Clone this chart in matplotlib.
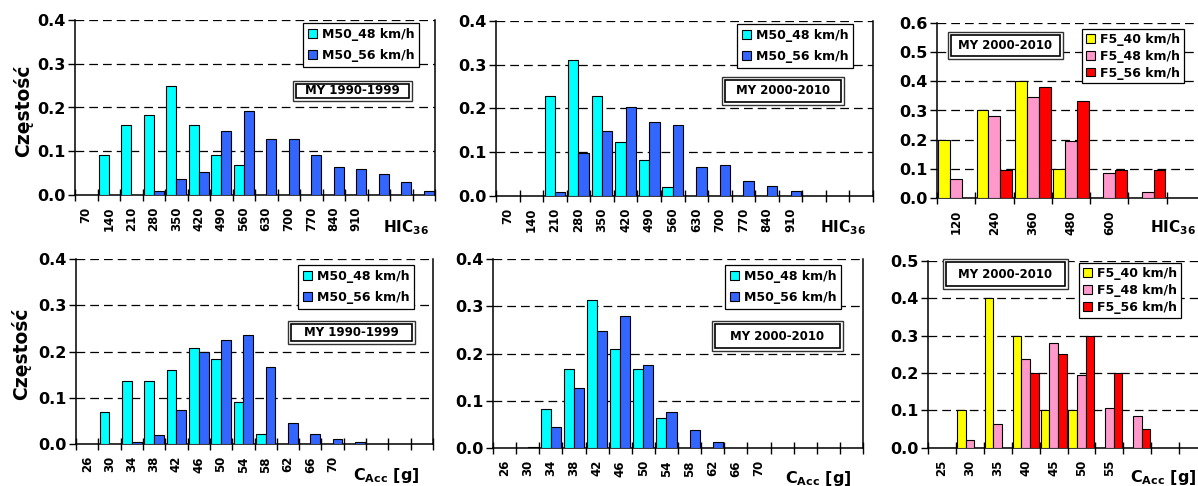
import numpy as np
import matplotlib
matplotlib.use('Agg')
import matplotlib.pyplot as plt
from matplotlib.patches import Rectangle
from matplotlib.ticker import FormatStrFormatter

# --- data ---
hic_bins = [70, 140, 210, 280, 350, 420, 490, 560, 630, 700, 770, 840, 910, 980, 1050, 1120]
hic_labels = ['70', '140', '210', '280', '350', '420', '490', '560', '630', '700', '770', '840', '910', '', '', '']

p1_m48 = [0, 0.091, 0.16, 0.182, 0.25, 0.16, 0.091, 0.068, 0, 0, 0, 0, 0, 0, 0, 0]
p1_m56 = [0, 0, 0, 0.01, 0.037, 0.053, 0.147, 0.192, 0.128, 0.128, 0.091, 0.064, 0.059, 0.048, 0.03, 0.008]

p2_m48 = [0, 0, 0.228, 0.311, 0.228, 0.124, 0.083, 0.02, 0, 0, 0, 0, 0, 0, 0, 0]
p2_m56 = [0, 0, 0.01, 0.098, 0.148, 0.203, 0.169, 0.163, 0.067, 0.07, 0.034, 0.023, 0.011, 0, 0, 0]

f5_hic_bins = [120, 240, 360, 480, 600, 720, 840]
f5_hic_labels = ['120', '240', '360', '480', '600', '', '']
p3_f40 = [0.2, 0.3, 0.4, 0.1, 0, 0, 0]
p3_f48 = [0.065, 0.281, 0.347, 0.195, 0.088, 0.022, 0]
p3_f56 = [0, 0.096, 0.379, 0.331, 0.096, 0.096, 0]

cacc_bins = [26, 30, 34, 38, 42, 46, 50, 54, 58, 62, 66, 70, 74, 78, 82, 86]
cacc_labels = ['26', '30', '34', '38', '42', '46', '50', '54', '58', '62', '66', '70', '', '', '', '']
p4_m48 = [0, 0.069, 0.137, 0.137, 0.161, 0.207, 0.185, 0.091, 0.023, 0, 0, 0, 0, 0, 0, 0]
p4_m56 = [0, 0, 0.006, 0.021, 0.074, 0.199, 0.225, 0.235, 0.166, 0.045, 0.022, 0.011, 0.0045, 0, 0, 0]

p5_m48 = [0, 0, 0.084, 0.167, 0.314, 0.21, 0.167, 0.063, 0, 0, 0, 0, 0, 0, 0, 0]
p5_m56 = [0, 0.002, 0.045, 0.127, 0.248, 0.279, 0.176, 0.076, 0.038, 0.014, 0, 0, 0, 0, 0, 0]

f5_cacc_bins = [25, 30, 35, 40, 45, 50, 55, 60, 65, 70]
f5_cacc_labels = ['25', '30', '35', '40', '45', '50', '55', '', '', '']
p6_f40 = [0, 0.1, 0.4, 0.3, 0.1, 0.1, 0, 0, 0, 0]
p6_f48 = [0, 0.021, 0.064, 0.2375, 0.28, 0.195, 0.107, 0.085, 0, 0]
p6_f56 = [0, 0, 0, 0.2, 0.25, 0.3, 0.2, 0.051, 0, 0]

m_names = ['M50_48 km/h', 'M50_56 km/h']
f_names = ['F5_40 km/h', 'F5_48 km/h', 'F5_56 km/h']
m_colors = ['#00FFFF', '#3366FF']
f_colors = ['#FFFF00', '#FF99CC', '#FF0000']

W, H = 1198, 486
plt.rcParams['font.family'] = ['DejaVu Sans']
plt.rcParams['font.weight'] = 'bold'
plt.rcParams['mathtext.default'] = 'bf'

fig = plt.figure(figsize=(W / 100, H / 100), dpi=100)


def fx(x):
    return x / W


def fy(y):
    return 1 - y / H


def my_box(l, t, r, b, text):
    # double-framed label box
    fig.add_artist(Rectangle((fx(l), fy(b)), (r - l) / W, (b - t) / H, transform=fig.transFigure,
                             facecolor='white', edgecolor='#333333', lw=1.0, zorder=6))
    d = 3
    fig.add_artist(Rectangle((fx(l + d), fy(b - d)), (r - l - 2 * d) / W, (b - t - 2 * d) / H,
                             transform=fig.transFigure, facecolor='white', edgecolor='black', lw=1.2, zorder=6))
    fig.text(fx((l + r) / 2), fy((t + b) / 2), text, ha='center', va='center', fontsize=8.5,
             fontweight='bold', zorder=7)


def panel(box, labels, series, colors, names, ymax, leg_xy, leg_spacing, leg_pad):
    l, t, r, b = box
    ax = fig.add_axes([fx(l), fy(b), (r - l) / W, (b - t) / H])
    n = len(labels)
    k = len(series)
    x = np.arange(n)
    bw = 0.44 if k == 2 else 0.31
    for i in range(k):
        off = (i - (k - 1) / 2) * bw
        ax.bar(x + off, series[i], bw, color=colors[i], edgecolor='black', linewidth=0.8,
               label=names[i], zorder=3)
    ax.set_xlim(-0.5, n - 0.5)
    ax.set_ylim(0, ymax)
    yt = np.round(np.arange(0, ymax + 0.001, 0.1), 1)
    ax.set_yticks(yt)
    ax.yaxis.set_major_formatter(FormatStrFormatter('%.1f'))
    ax.set_xticks(np.arange(n + 1) - 0.5)
    ax.set_xticklabels([])
    ax.set_xticks(x, labels, minor=True)
    ax.tick_params(axis='x', which='major', direction='inout', length=8, width=1)
    ax.tick_params(axis='x', which='minor', length=0, pad=8.5, labelsize=8.5, labelrotation=90)
    ax.tick_params(axis='y', direction='out', length=5, width=1, pad=2, labelsize=11.5)
    for yv in yt[1:]:
        ax.axhline(yv, color='black', lw=0.9, ls=(0, (7, 4)), zorder=1)
    ax.spines['top'].set_visible(False)
    for s in ['left', 'bottom', 'right']:
        ax.spines[s].set_linewidth(1.1)
    leg = ax.legend(loc='upper left', bbox_to_anchor=(fx(leg_xy[0]), fy(leg_xy[1])),
                    bbox_transform=fig.transFigure, borderaxespad=0, fancybox=False,
                    edgecolor='black', framealpha=1, handlelength=0.7, handleheight=0.7,
                    handletextpad=0.4, borderpad=leg_pad, labelspacing=leg_spacing, fontsize=9)
    leg.get_frame().set_linewidth(0.9)
    leg.set_zorder(8)
    return ax


panel((75, 20, 435, 195), hic_labels, [p1_m48, p1_m56], m_colors, m_names, 0.4, (303, 23), 0.62, 0.4)
panel((496, 20.7, 873, 196), hic_labels, [p2_m48, p2_m56], m_colors, m_names, 0.4, (737, 24), 0.62, 0.4)
panel((937, 22.7, 1205, 198.3), f5_hic_labels, [p3_f40, p3_f48, p3_f56], f_colors, f_names, 0.6,
      (1082, 29), 0.3, 0.32)
panel((76, 259, 433, 444.3), cacc_labels, [p4_m48, p4_m56], m_colors, m_names, 0.4, (298, 265), 0.62, 0.4)
panel((493, 259, 863, 448.3), cacc_labels, [p5_m48, p5_m56], m_colors, m_names, 0.4, (725, 265), 0.62, 0.4)
panel((928, 261, 1207, 447.7), f5_cacc_labels, [p6_f40, p6_f48, p6_f56], f_colors, f_names, 0.5,
      (1079, 263), 0.3, 0.32)

my_box(293, 81, 412, 101, 'MY 1990-1999')
my_box(722, 77, 844, 105, 'MY 2000-2010')
my_box(948, 32, 1063, 59, 'MY 2000-2010')
my_box(288, 321, 415, 344, 'MY 1990-1999')
my_box(712, 321, 843, 351, 'MY 2000-2010')
my_box(943, 259, 1068, 289, 'MY 2000-2010')

fig.text(fx(23), fy(111), 'Częstość', rotation=90, ha='center', va='center', fontsize=13.5, fontweight='bold')
fig.text(fx(21), fy(354), 'Częstość', rotation=90, ha='center', va='center', fontsize=13.5, fontweight='bold')

for xp, yp in [(383, 232), (820, 232), (1150, 232)]:
    fig.text(fx(xp), fy(yp), 'HIC$_{36}$', ha='left', va='baseline', fontsize=11, fontweight='bold')
for xp, yp in [(353, 480), (785, 483), (1130, 482)]:
    fig.text(fx(xp), fy(yp), 'C$_{Acc}$ [g]', ha='left', va='baseline', fontsize=11.5, fontweight='bold')

fig.savefig('out.png', dpi=100)
